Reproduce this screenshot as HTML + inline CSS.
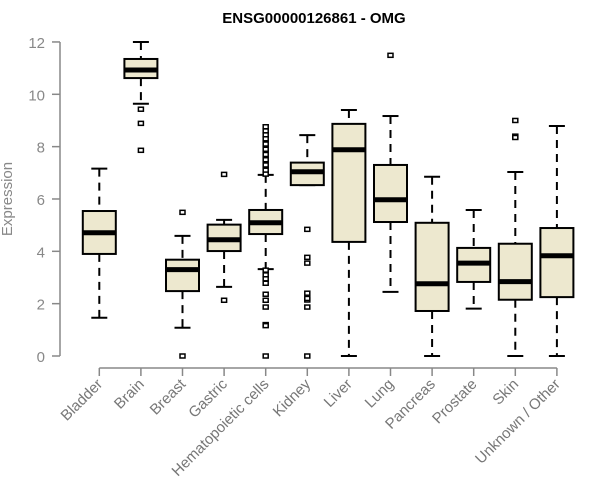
<!DOCTYPE html>
<html><head><meta charset="utf-8"><style>body{margin:0;background:#fff}svg{display:block}text{font-family:"Liberation Sans",sans-serif}</style></head>
<body>
<svg id="chart" width="600" height="500" xmlns="http://www.w3.org/2000/svg">
<text x="314" y="23" text-anchor="middle" font-size="15" font-weight="bold">ENSG00000126861 - OMG</text>
<text transform="translate(12,199) rotate(-90)" text-anchor="middle" font-size="15" fill="#888">Expression</text>
<g id="axes"></g><g id="plot"></g>
</svg>
<script>
const categories=["Bladder","Brain","Breast","Gastric","Hematopoietic cells","Kidney","Liver","Lung","Pancreas","Prostate","Skin","Unknown / Other"];
const whiskerLow=[1.46,9.64,1.08,2.64,3.32,6.53,0,2.45,0,1.81,0,0];
const q1=[3.90,10.62,2.48,4.01,4.66,6.53,4.36,5.12,1.72,2.83,2.15,2.25];
const medians=[4.71,10.93,3.30,4.44,5.09,7.04,7.88,5.97,2.76,3.55,2.84,3.83];
const q3=[5.54,11.35,3.68,5.02,5.58,7.39,8.87,7.30,5.09,4.13,4.29,4.89];
const whiskerHigh=[7.16,12.0,4.59,5.2,6.92,8.44,9.40,9.17,6.85,5.58,7.03,8.79];
const outliers=[[],[9.43,8.89,7.86],[5.49,0],[6.94,2.13],[8.76,8.6,8.45,8.3,8.1,7.9,7.7,7.5,7.3,7.1,6.95,3.28,3.1,2.95,2.78,2.36,2.13,1.87,1.2,1.16,0],[4.84,3.77,3.55,2.40,2.14,2.2,1.87,0],[],[11.49],[],[],[9.0,8.4,8.35],[]];
const yTicks=[0,2,4,6,8,10,12];
const NS="http://www.w3.org/2000/svg";
const y=v=>356-v*26.17;
const x=i=>99.3+i*41.6;
function mk(tag,attrs,parent){const e=document.createElementNS(NS,tag);for(const k in attrs)e.setAttribute(k,attrs[k]);parent.appendChild(e);return e;}
const axes=document.getElementById('axes'),plot=document.getElementById('plot');
let e=mk('line',{x1:60,x2:60,y1:y(0),y2:y(12),stroke:'#888','stroke-width':1.5},axes);


yTicks.forEach(t=>{
 let l=mk('line',{x1:52,x2:60,y1:y(t),y2:y(t),stroke:'#888','stroke-width':1.5},axes);
 
 
 let tx=mk('text',{x:45,y:y(t)+6,'text-anchor':'end','font-size':15,fill:'#888'},axes);tx.textContent=t;
 
 
});
e=mk('line',{x1:x(0),x2:x(11),y1:368,y2:368,stroke:'#888','stroke-width':1.5},axes);


categories.forEach((c,i)=>{
 const cx=x(i);
 let l=mk('line',{x1:cx,x2:cx,y1:368,y2:376,stroke:'#888','stroke-width':1.5},axes);
 
 
 let tx=mk('text',{transform:`translate(${cx+4},${385}) rotate(-45)`,'text-anchor':'end','font-size':15,fill:'#777'},axes);tx.textContent=c;
 
 
 const g=mk('g',{},plot);
 
 
 mk('line',{x1:cx,x2:cx,y1:y(whiskerHigh[i]),y2:y(q3[i]),stroke:'#000','stroke-width':2,'stroke-dasharray':'8,6'},g);
 mk('line',{x1:cx,x2:cx,y1:y(q1[i]),y2:y(whiskerLow[i]),stroke:'#000','stroke-width':2,'stroke-dasharray':'8,6'},g);
 mk('line',{x1:cx-8,x2:cx+8,y1:y(whiskerHigh[i]),y2:y(whiskerHigh[i]),stroke:'#000','stroke-width':2},g);
 mk('line',{x1:cx-8,x2:cx+8,y1:y(whiskerLow[i]),y2:y(whiskerLow[i]),stroke:'#000','stroke-width':2},g);
 mk('rect',{x:cx-16.5,y:y(q3[i]),width:33,height:y(q1[i])-y(q3[i]),fill:'#ede8cf',stroke:'#000','stroke-width':2},g);
 mk('line',{x1:cx-16.5,x2:cx+16.5,y1:y(medians[i]),y2:y(medians[i]),stroke:'#000','stroke-width':5},g);
 outliers[i].forEach(v=>{
  let r=mk('rect',{x:cx-2.5,y:y(v)-2,width:5,height:4,fill:'#fff',stroke:'#000','stroke-width':1.5},g);
  
  
 });
});
</script>
</body></html>
